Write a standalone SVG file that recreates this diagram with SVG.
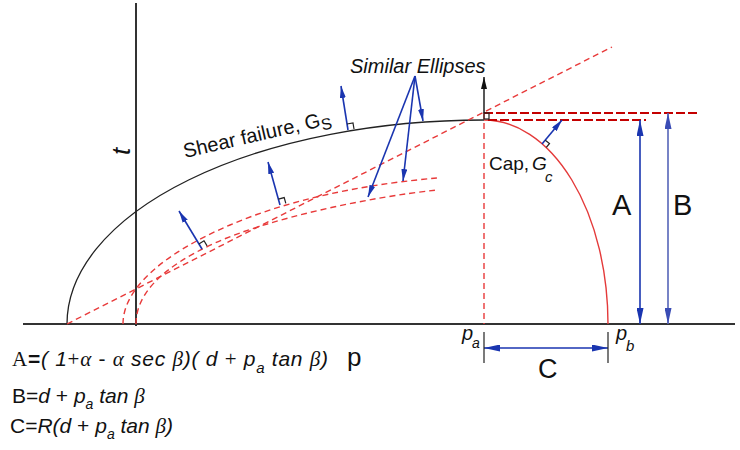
<svg xmlns="http://www.w3.org/2000/svg" width="740" height="450" viewBox="0 0 740 450">
<defs>
<style>
.ax{stroke:#333;stroke-width:2;fill:none}
.blk{stroke:#222;stroke-width:1.3;fill:none}
.cap{stroke:#e43a3a;stroke-width:1.4;fill:none}
.rd{stroke:#e83a3a;stroke-width:1.4;fill:none;stroke-dasharray:6 4}
.dr{stroke:#c40000;stroke-width:2;fill:none;stroke-dasharray:9 3}
.bl{stroke:#1a35b0;stroke-width:1.6;fill:none}
.bl2{stroke:#5564b8;stroke-width:1.6;fill:none}
.tick{stroke:#222;stroke-width:1.2;fill:none}
text{font-family:"Liberation Sans",Arial,sans-serif;fill:#111}
.it{font-style:italic}
.sr{font-family:"Liberation Serif","Times New Roman",serif}
</style>
<marker id="big" viewBox="0 0 16 7" refX="16" refY="3.5" markerWidth="16" markerHeight="7" markerUnits="userSpaceOnUse" orient="auto-start-reverse"><path d="M0,0 L16,3.5 L0,7 z" fill="#1a35b0"/></marker>
<marker id="big2" viewBox="0 0 16 7" refX="16" refY="3.5" markerWidth="16" markerHeight="7" markerUnits="userSpaceOnUse" orient="auto-start-reverse"><path d="M0,0 L16,3.5 L0,7 z" fill="#3a4cb5"/></marker>
<marker id="sm" viewBox="0 0 12 6" refX="12" refY="3" markerWidth="12" markerHeight="6" markerUnits="userSpaceOnUse" orient="auto"><path d="M0,0 L12,3 L0,6 z" fill="#1a35b0"/></marker>
<marker id="smk" viewBox="0 0 12 6" refX="12" refY="3" markerWidth="12" markerHeight="6" markerUnits="userSpaceOnUse" orient="auto"><path d="M0,0 L12,3 L0,6 z" fill="#111"/></marker>
</defs>
<rect width="740" height="450" fill="#fff"/>

<g id="axes">
<line class="ax" x1="23" y1="324" x2="735" y2="324"/>
<line class="ax" x1="136" y1="3" x2="136" y2="326"/>
</g>

<g id="curves">
<path id="shear" class="blk" d="M67,324 A417,204 0 0 1 484,120"/>
<path id="capcurve" class="cap" d="M484,120 A124,204 0 0 1 608,324"/>
<line class="rd" x1="67" y1="324" x2="612" y2="47"/>
<path class="rd" d="M123,324 C123,290 160,255 230,225 S380,183 437,178"/>
<path class="rd" d="M136,324 C136,295 160,268 215,243 S370,197 437,190"/>
<line class="rd" x1="484" y1="113" x2="484" y2="324"/>
<line class="dr" x1="484" y1="113" x2="698" y2="113"/>
<line class="dr" x1="488" y1="120" x2="646" y2="120"/>
</g>

<g id="connectors">
<line class="bl" x1="348" y1="130" x2="341" y2="86" marker-end="url(#sm)"/>
<line class="bl" x1="280" y1="205" x2="268" y2="162" marker-end="url(#sm)"/>
<line class="bl" x1="202" y1="249" x2="179" y2="211" marker-end="url(#sm)"/>
<line class="bl" x1="542" y1="144" x2="562" y2="120" marker-end="url(#sm)"/>
<line class="bl" x1="415" y1="76" x2="368" y2="197" marker-end="url(#sm)"/>
<line class="bl" x1="415" y1="76" x2="403" y2="181" marker-end="url(#sm)"/>
<line class="bl" x1="415" y1="76" x2="423" y2="121" marker-end="url(#sm)"/>
<line stroke="#111" stroke-width="1.4" x1="484" y1="113" x2="484" y2="77" marker-end="url(#smk)"/>
<line class="bl" x1="640" y1="120" x2="640" y2="324" marker-start="url(#big)" marker-end="url(#big)"/>
<line class="bl2" x1="668" y1="113" x2="668" y2="324" marker-start="url(#big2)" marker-end="url(#big2)"/>
<line class="bl" x1="484" y1="348" x2="608" y2="348" marker-start="url(#big)" marker-end="url(#big)"/>
<line class="tick" x1="484" y1="332" x2="484" y2="363"/>
<line class="tick" x1="608" y1="332" x2="608" y2="363"/>
</g>

<g id="right-angles">
<path class="tick" d="M347,124 L353,123 L354,129"/>
<path class="tick" d="M278.4,199.2 L284.2,197.6 L285.8,203.4"/>
<path class="tick" d="M198.9,243.9 L204,240.8 L207.1,245.9"/>
<path class="tick" d="M545.3,140.2 L549.5,143.5 L546.3,147.3"/>
<rect class="tick" x="484" y="113" width="5" height="6"/>
</g>

<g id="labels">
<text class="it" x="350" y="73" font-size="20">Similar Ellipses</text>
<text transform="rotate(-13 185 158)" x="185" y="158" font-size="20">Shear failure, G<tspan font-size="16" dy="4">S</tspan></text>
<text x="489" y="170" font-size="19">Cap,<tspan class="it" x="532">G</tspan><tspan class="it" font-size="15" x="545" y="182">c</tspan></text>
<text transform="translate(130,155) rotate(-90)" class="it" font-size="26">t</text>
<text x="347" y="366" font-size="26">p</text>
<text x="612" y="215" font-size="29">A</text>
<text x="673" y="215" font-size="29">B</text>
<text x="538" y="378" font-size="27">C</text>
<text class="it" x="462" y="340" font-size="20">p<tspan font-size="14" x="472" y="348">a</tspan></text>
<text class="it" x="616" y="340" font-size="20">p<tspan font-size="15" x="626" y="351">b</tspan></text>
</g>

<g id="formulas">
<text x="12" y="366" font-size="21" textLength="316" lengthAdjust="spacing"><tspan class="sr">A</tspan><tspan font-weight="bold">=</tspan><tspan class="it">( 1</tspan><tspan class="sr">+</tspan><tspan class="sr it">α</tspan> - <tspan class="sr it">α</tspan><tspan class="it"> sec </tspan><tspan class="sr it">β</tspan><tspan class="it">)( d </tspan><tspan class="sr">+</tspan><tspan class="it"> p</tspan><tspan class="it" font-size="15" dy="7">a</tspan><tspan class="it" dy="-7"> tan </tspan><tspan class="sr it">β</tspan><tspan class="it">)</tspan></text>
<text x="12" y="403" font-size="21">B=<tspan class="it">d</tspan> + <tspan class="it">p</tspan><tspan class="it" font-size="14" dy="6">a</tspan><tspan class="it" dy="-6"> tan </tspan><tspan class="sr it">β</tspan></text>
<text x="10" y="433" font-size="21">C=<tspan class="it">R(d</tspan> + <tspan class="it">p</tspan><tspan class="it" font-size="14" dy="6">a</tspan><tspan class="it" dy="-6">  tan </tspan><tspan class="sr it">β</tspan><tspan class="it">)</tspan></text>
</g>
</svg>
